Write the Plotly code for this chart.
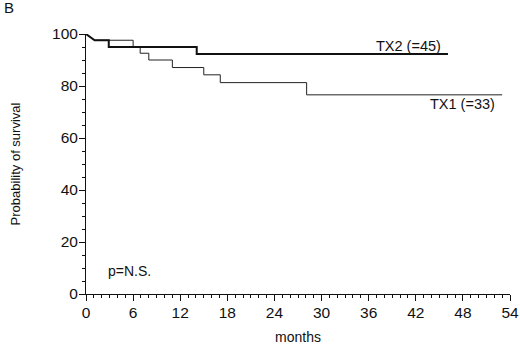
import plotly.graph_objects as go

# Kaplan-Meier data (months, survival %)
tx2_times = [0, 1.1, 2.9, 14.1, 46.1]
tx2_surv = [100, 97.6, 95.0, 92.3, 92.3]
tx1_times = [0, 1.1, 6.0, 6.9, 8.0, 11.0, 15.0, 17.1, 28.1, 53.0]
tx1_surv = [100, 97.6, 95.0, 92.6, 90.0, 87.1, 84.3, 81.3, 76.6, 76.6]

x_ticks = [0, 6, 12, 18, 24, 30, 36, 42, 48, 54]
y_ticks = [0, 20, 40, 60, 80, 100]

FONT = "Liberation Sans, Arial, Helvetica, sans-serif"


def km_path(times, surv):
    # first drop drawn as a slant, then horizontal-vertical steps
    xs = [times[0], times[1]]
    ys = [surv[0], surv[1]]
    for i in range(2, len(times)):
        xs += [times[i], times[i]]
        ys += [surv[i - 1], surv[i]]
    return xs, ys


fig = go.Figure()
x1, y1 = km_path(tx1_times, tx1_surv)
x2, y2 = km_path(tx2_times, tx2_surv)
fig.add_trace(go.Scatter(x=x1, y=y1, mode="lines", line=dict(color="#222", width=1),
                         cliponaxis=False, showlegend=False, hoverinfo="skip"))
fig.add_trace(go.Scatter(x=x2, y=y2, mode="lines", line=dict(color="#111", width=2),
                         cliponaxis=False, showlegend=False, hoverinfo="skip"))

fig.update_layout(
    width=520, height=345,
    margin=dict(l=86, r=10, t=34, b=51),
    plot_bgcolor="white", paper_bgcolor="white",
    font=dict(family=FONT, color="#111", size=14),
    xaxis=dict(range=[0, 54], tickvals=x_ticks, ticktext=[str(v) for v in x_ticks],
               automargin=False,
               showgrid=False, zeroline=False, showline=True, linecolor="#111", linewidth=1,
               ticks="outside", ticklen=6, tickwidth=1, tickcolor="#111",
               tickfont=dict(size=15.5), ticklabelstandoff=-2,
               minor=dict(dtick=1, ticks="outside", ticklen=3, tickcolor="#111", tickwidth=1),
               title=dict(text="months", font=dict(size=14), standoff=13)),
    yaxis=dict(range=[0, 100], tickvals=y_ticks, ticktext=[str(v) for v in y_ticks],
               automargin=False,
               showgrid=False, zeroline=False, showline=True, linecolor="#111", linewidth=1,
               ticks="outside", ticklen=6, tickwidth=1, tickcolor="#111",
               tickfont=dict(size=15.5), ticklabelstandoff=-2,
               minor=dict(dtick=5, ticks="outside", ticklen=3, tickcolor="#111", tickwidth=1),
               title=dict(text="Probability of survival", font=dict(size=13), standoff=28)),
)

fig.add_annotation(x=45.5, y=95.4, text="TX2 (=45)", showarrow=False, xanchor="right",
                   yanchor="middle", font=dict(size=14.5))
fig.add_annotation(x=52.4, y=73.2, text="TX1 (=33)", showarrow=False, xanchor="right",
                   yanchor="middle", font=dict(size=14.5))
fig.add_annotation(x=2.5, y=8.8, text="p=N.S.", showarrow=False, xanchor="left",
                   yanchor="middle", font=dict(size=14))
fig.add_annotation(xref="paper", yref="paper", x=-84 / 424, y=1 + 26 / 260,
                   text="B", showarrow=False, xanchor="left", yanchor="middle",
                   font=dict(size=15))

fig.write_html("out.html", config={"displayModeBar": False},
               post_script="document.body.style.margin='0';document.body.style.overflow='hidden';")
